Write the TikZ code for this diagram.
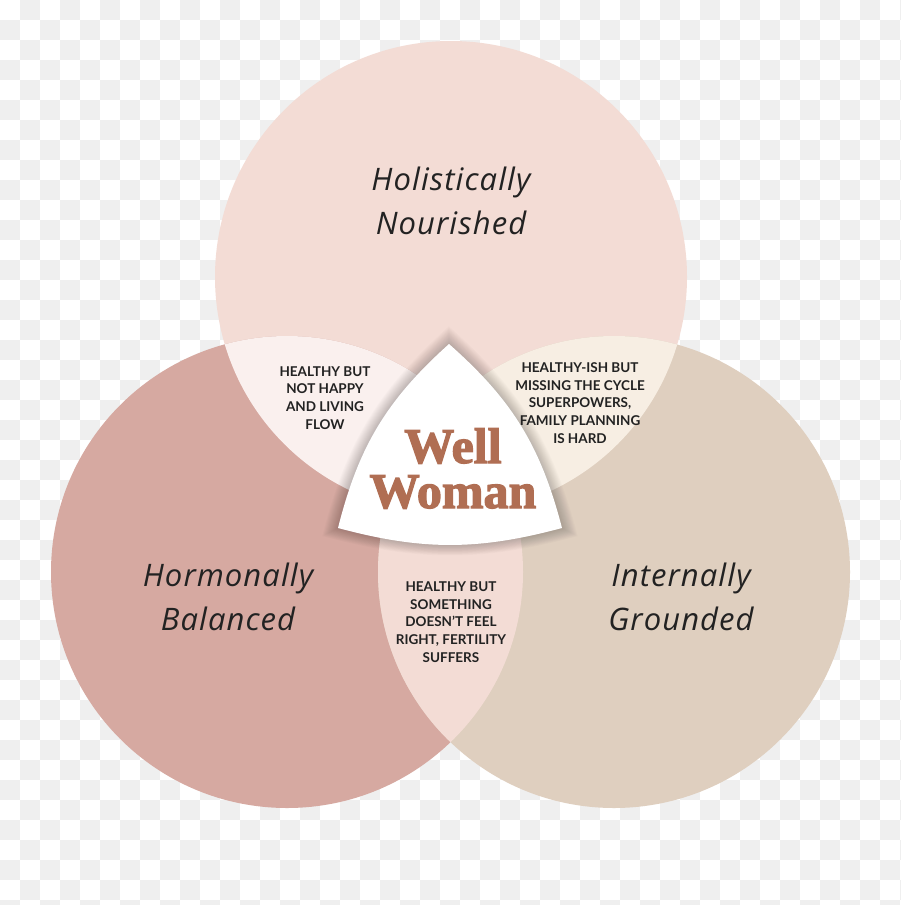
\documentclass[tikz,border=0pt]{standalone}
\usepackage{fontspec}
\usepackage{xcolor}
\usepackage{tikz}
\newfontfamily\labelfont{Lato}
\newfontfamily\namefont{Open Sans}[LetterSpace=3.5]
\newfontfamily\titlefont{Liberation Serif}[BoldFeatures={FakeBold=2.5}]
\definecolor{checker}{HTML}{EFEFEF}
\definecolor{nourishedfill}{HTML}{F3DCD5}
\definecolor{balancedfill}{HTML}{D6A9A1}
\definecolor{groundedfill}{HTML}{DFCFBF}
\definecolor{happyfill}{HTML}{FAF0EE}
\definecolor{cyclefill}{HTML}{F7EEE3}
\definecolor{fertilefill}{HTML}{F3DCD5}
\definecolor{wellbrown}{HTML}{B06E53}
\definecolor{ink}{HTML}{222222}
\tikzstyle{bigtext}=[inner sep=0pt,align=center,text=ink,font=\namefont\itshape\fontsize{31}{44}\selectfont]
\tikzstyle{smalltext}=[inner sep=0pt,align=center,text=ink,font=\labelfont\bfseries\fontsize{13.5}{17.8}\selectfont]
\tikzstyle{welltext}=[inner sep=0pt,anchor=base,text=wellbrown,font=\titlefont\bfseries\fontsize{50}{45}\selectfont]
\tikzstyle{glow}=[fill=black,opacity=0.014]
\newcommand\tripath{(449,344) to[bend right=17] (338,528) to[bend right=15] (562,528) to[bend right=17] cycle}

\begin{document}
\begin{tikzpicture}[x=1pt,y=-1pt]
        \useasboundingbox (0,0) rectangle (900,905);
        % checkered backdrop
        \fill[white] (0,0) rectangle (900,905);
        \foreach \col in {0,40,...,880} {
          \foreach \row in {0,40,...,880} {
            \fill[checker] (\col+20,\row) rectangle (\col+40,\row+20);
            \fill[checker] (\col,\row+20) rectangle (\col+20,\row+40);
          }
        }

        \coordinate (T) at (451,277);
        \coordinate (L) at (287,572);
        \coordinate (R) at (614,572);
        \def\rad{236}

        \fill[nourishedfill] (T) circle (\rad);
        \fill[balancedfill]  (L) circle (\rad);
        \fill[groundedfill]  (R) circle (\rad);

        % overlaps
        \begin{scope}
          \clip (T) circle (\rad);
          \fill[happyfill] (L) circle (\rad);
          \fill[cyclefill] (R) circle (\rad);
        \end{scope}
        \begin{scope}
          \clip (L) circle (\rad);
          \fill[fertilefill] (R) circle (\rad);
        \end{scope}

        % rounded triangle in the middle, with a soft glow
        \foreach \s in {1.01,1.02,...,1.15}
          \fill[glow,scale around={\s:(450,470)}] \tripath;
        \fill[white] \tripath;

        \node[bigtext] (nourished) at (451,201) {Holistically\\Nourished};
        \node[bigtext] (balanced)  at (228,597) {Hormonally\\Balanced};
        \node[bigtext] (grounded)  at (681,597) {Internally\\Grounded};

        \node[smalltext] (happy)   at (325,398) {HEALTHY BUT\\NOT HAPPY\\AND LIVING\\FLOW};
        \node[smalltext] (cycle)   at (580,403) {HEALTHY-ISH BUT\\MISSING THE CYCLE\\SUPERPOWERS,\\FAMILY PLANNING\\IS HARD};
        \node[smalltext] (fertile) at (451,622) {HEALTHY BUT\\SOMETHING\\DOESN’T FEEL\\RIGHT, FERTILITY\\SUFFERS};

        \node[welltext] (well)  at (453,463) {Well};
        \node[welltext] (woman) at (453,508) {Woman};
      \end{tikzpicture}
\end{document}
